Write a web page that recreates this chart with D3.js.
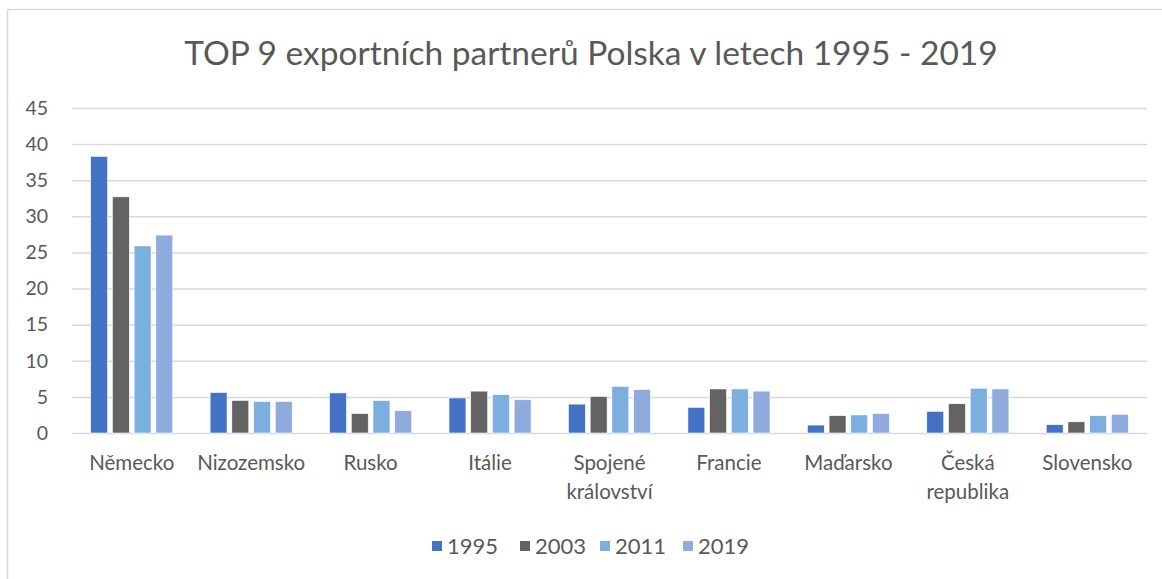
<!DOCTYPE html>
<html>
<meta charset="utf-8">
<style>
  body { margin: 0; background: #fff; }
  text { font-family: Lato, "Open Sans", sans-serif; fill: #595959; }
</style>
<body>
<script src="https://d3js.org/d3.v7.min.js"></script>
<script>
  // data
  var countries = ["Německo", "Nizozemsko", "Rusko", "Itálie", "Spojené království",
                   "Francie", "Maďarsko", "Česká republika", "Slovensko"];
  var years = ["1995", "2003", "2011", "2019"];
  var v1995 = [38.3, 5.6, 5.55, 4.85, 4.0, 3.55, 1.1, 3.0, 1.15];
  var v2003 = [32.7, 4.5, 2.7, 5.8, 5.05, 6.1, 2.4, 4.05, 1.55];
  var v2011 = [25.9, 4.35, 4.5, 5.3, 6.45, 6.1, 2.5, 6.2, 2.4];
  var v2019 = [27.4, 4.35, 3.1, 4.6, 6.0, 5.8, 2.7, 6.1, 2.6];
  var yTicks = [0, 5, 10, 15, 20, 25, 30, 35, 40, 45];
  var colors = ["#4472c4", "#636363", "#7caedf", "#8faadc"];

  var series = [v1995, v2003, v2011, v2019];

  var W = 1162, H = 579;
  var margin = {top: 108, right: 15, bottom: 146, left: 72};
  var width = W - margin.left - margin.right,
      height = H - margin.top - margin.bottom;

  var svg = d3.select("body").append("svg")
      .attr("width", W)
      .attr("height", H);

  // chart border (only top and left visible in the picture)
  svg.append("path")
      .attr("d", "M7.5,579 V9.5 H1162")
      .attr("fill", "none")
      .attr("stroke", "#d9d9d9")
      .attr("stroke-width", 1.5);

  svg.append("text")
      .attr("x", 591)
      .attr("y", 65)
      .attr("text-anchor", "middle")
      .style("font-size", "33.5px")
      .text("TOP 9 exportních partnerů Polska v letech 1995 - 2019");

  var g = svg.append("g")
      .attr("transform", `translate(${margin.left},${margin.top})`);

  var x0 = d3.scaleBand().domain(countries).range([0, width]).padding(0);
  var x1 = d3.scaleBand().domain(years).range([0, x0.bandwidth()])
      .paddingInner(0.22).paddingOuter(0.86);
  var y = d3.scaleLinear().domain([0, 45]).range([height, 0]);

  var yAxis = g.append("g")
      .call(d3.axisLeft(y).tickValues(yTicks).tickSizeInner(-width).tickSizeOuter(0).tickPadding(24));
  yAxis.select(".domain").remove();
  yAxis.selectAll(".tick line").attr("stroke", "#d9d9d9").attr("stroke-width", 1.5);
  yAxis.selectAll(".tick text")
      .style("font-size", "19.5px")
      .style("font-family", "Lato, sans-serif")
      .attr("fill", "#595959");

  var groups = g.selectAll("g.cat")
      .data(countries)
      .join("g")
      .attr("class", "cat")
      .attr("transform", d => `translate(${x0(d)},0)`);

  groups.selectAll("rect")
      .data((d, i) => years.map((yr, k) => ({year: yr, k: k, value: series[k][i]})))
      .join("rect")
      .attr("x", d => x1(d.year))
      .attr("width", x1.bandwidth())
      .attr("y", d => y(d.value))
      .attr("height", d => y(0) - y(d.value))
      .attr("fill", d => colors[d.k])
      .attr("stroke", "#fff")
      .attr("stroke-width", 0.6);

  // category labels, wrapped on the space like the original
  var labels = g.selectAll("text.cat")
      .data(countries)
      .join("text")
      .attr("class", "cat")
      .attr("text-anchor", "middle")
      .attr("x", d => x0(d) + x0.bandwidth() / 2)
      .attr("y", height + 37)
      .style("font-size", "20.5px");
  labels.each(function(d) {
    var parts = d.split(" ");
    var t = d3.select(this);
    parts.forEach((p, i) => {
      t.append("tspan")
        .attr("x", x0(d) + x0.bandwidth() / 2)
        .attr("dy", i === 0 ? 0 : 29)
        .text(p);
    });
  });

  // legend
  var legendX = [432, 520, 600, 683];
  var legend = svg.append("g").selectAll("g")
      .data(years)
      .join("g")
      .attr("transform", (d, i) => `translate(${legendX[i]},541)`);
  legend.append("rect")
      .attr("width", 10).attr("height", 10)
      .attr("fill", (d, i) => colors[i]);
  legend.append("text")
      .attr("x", 15)
      .attr("y", 12.5)
      .style("font-size", "22px")
      .text(d => d);
</script>
</body>
</html>
